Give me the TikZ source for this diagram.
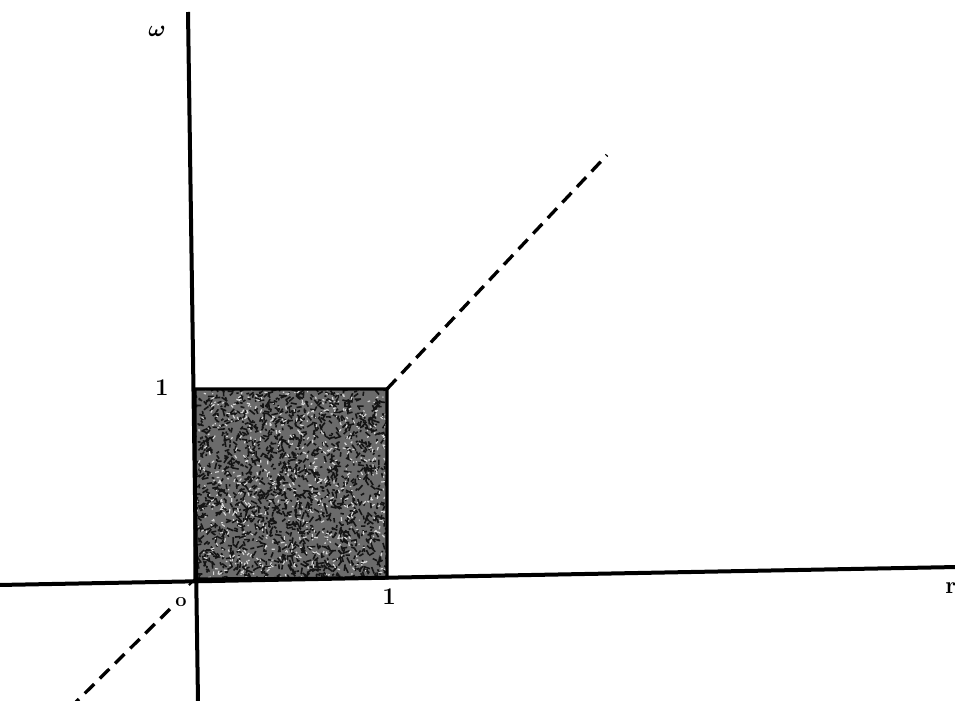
\documentclass[tikz,border=0pt]{standalone}
\begin{document}
\begin{tikzpicture}[x=0.75pt,y=-0.75pt,
  axisline/.style={line width=3pt,line cap=butt,black},
  boxline/.style={line width=2.4pt,black},
  diag/.style={line width=2.5pt,dash pattern=on 10pt off 6pt,black},
  lbl/.style={font=\fontsize{18}{21}\selectfont\boldmath,inner sep=0pt}]
\useasboundingbox (0,0) rectangle (955,700);
\fill[white] (0,0) rectangle (955,700);
% axes
\coordinate (vtop) at (188,12);
\coordinate (vbot) at (198,702);
\coordinate (hleft) at (-2,585);
\coordinate (hright) at (957,567);
% square
\coordinate (o) at (195,579);
\coordinate (a) at (387,578);
\coordinate (b) at (387,389);
\coordinate (c) at (195,389);
\fill[black!58] (o) -- (a) -- (b) -- (c) -- cycle;
\begin{scope}
\clip (o) -- (a) -- (b) -- (c) -- cycle;
\pgfmathsetseed{7}
\foreach \i in {1,...,1600}{
  \pgfmathsetmacro{\px}{195+192*rnd}
  \pgfmathsetmacro{\py}{389+190*rnd}
  \pgfmathsetmacro{\ang}{360*rnd}
  \pgfmathsetmacro{\len}{2+5*rnd}
  \draw[black!92,line width=1.2pt] (\px,\py) -- ++(\ang:\len);
}
\foreach \i in {1,...,650}{
  \pgfmathsetmacro{\px}{195+192*rnd}
  \pgfmathsetmacro{\py}{389+190*rnd}
  \pgfmathsetmacro{\ang}{360*rnd}
  \pgfmathsetmacro{\len}{1+3*rnd}
  \draw[black!15,line width=0.9pt] (\px,\py) -- ++(\ang:\len);
}
\end{scope}
\draw[boxline] (o) -- (a) -- (b) -- (c) -- cycle;
\draw[axisline] (vtop) -- (vbot);
\draw[axisline] (hleft) -- (hright);
% diagonal dashed line
\coordinate (d1) at (607,155);
\coordinate (d2) at (170,609);
\coordinate (d3) at (76,702);
\draw[diag] (b) -- (d1);
\draw[diag] (d2) -- (d3);
\draw[line width=1.6pt] (o) -- ++(-6,6);
% labels
\node[lbl] (lw) at (157,31) {$\omega$};
\node[lbl] (lr) at (951,588) {\textbf{r}};
\node[lbl] (l1v) at (162,388) {\textbf{1}};
\node[lbl] (l1h) at (389,597) {\textbf{1}};
\node[lbl,font=\fontsize{15}{17}\selectfont] (lo) at (181,602) {\textbf{o}};
\end{tikzpicture}
\end{document}
